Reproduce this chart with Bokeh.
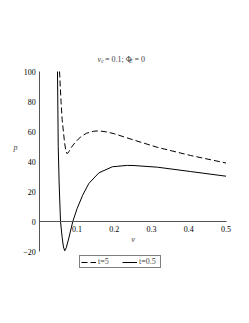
from bokeh.plotting import figure
from bokeh.models import Label, Legend, LegendItem, FixedTicker, Range1d
from bokeh.embed import file_html
from bokeh.resources import INLINE

# --- data ---
v_t5 = [0.053, 0.057, 0.060, 0.0663, 0.070, 0.0735, 0.078, 0.085, 0.096, 0.110,
        0.125, 0.145, 0.160, 0.180, 0.200, 0.250, 0.315, 0.405, 0.500]
p_t5 = [100, 80, 68, 53, 47, 45.2, 46.5, 49.5, 53, 56.5,
        58.8, 60.2, 60.4, 59.7, 58.5, 54.5, 49.5, 44, 39]

v_t05 = [0.0475, 0.0495, 0.052, 0.0556, 0.060, 0.0635, 0.067, 0.071, 0.078, 0.0886,
         0.100, 0.115, 0.132, 0.159, 0.195, 0.235, 0.253, 0.316, 0.405, 0.500]
p_t05 = [100, 50, 25, 0, -10.5, -17, -19.5, -17.5, -11, 0,
         8.5, 17.5, 25.5, 32.5, 36.5, 37.4, 37.3, 36.2, 33.3, 30.2]

x_ticks = [0.1, 0.2, 0.3, 0.4, 0.5]
y_ticks = [-20, 0, 20, 40, 60, 80, 100]
series_labels = ["t=5", "t=0.5"]

FONT = "Liberation Serif"

# layout (pixels on the canvas)
W, H = 233, 307
X0_PX, X1_PX = 39.3, 225.5          # pixel of v=0 and v=0.5
Y100_PX, YM20_PX = 71.0, 251.0      # pixel of p=100 and p=-20
sx = (X1_PX - X0_PX) / 0.5
sy = (YM20_PX - Y100_PX) / 120.0
x_start = -X0_PX / sx
x_end = 0.5 + (W - X1_PX) / sx
y_end = 100 + Y100_PX / sy
y_start = -20 - (H - YM20_PX) / sy

p = figure(width=W, height=H, min_border=0,
           x_range=Range1d(x_start, x_end), y_range=Range1d(y_start, y_end),
           output_backend="svg", toolbar_location=None)
p.outline_line_color = None
p.grid.grid_line_color = None
p.background_fill_color = "white"
p.border_fill_color = "white"

r1 = p.line(v_t5, p_t5, line_color="black", line_width=1, line_dash="6 3")
r2 = p.line(v_t05, p_t05, line_color="black", line_width=1)

for ax in (p.xaxis[0], p.yaxis[0]):
    ax.axis_line_color = "#555555"
    ax.axis_line_width = 1
    ax.major_tick_out = 0
    ax.major_tick_in = 0
    ax.minor_tick_out = 0
    ax.minor_tick_in = 0
    ax.major_label_text_font = FONT
    ax.major_label_text_font_size = "8px"
    ax.major_label_text_color = "black"

p.xaxis.ticker = FixedTicker(ticks=x_ticks)
p.yaxis.ticker = FixedTicker(ticks=y_ticks)
p.xaxis.fixed_location = 0
p.yaxis.fixed_location = 0
p.xaxis.bounds = (0, 0.5)
p.yaxis.bounds = (-20, 100)
p.xaxis.major_label_standoff = 4
p.yaxis.major_label_standoff = 4
p.xaxis.axis_label = "v"
p.xaxis.axis_label_text_font = FONT
p.xaxis.axis_label_text_font_style = "italic"
p.xaxis.axis_label_text_font_size = "8px"
p.xaxis.axis_label_standoff = 0

def px_to_x(px):
    return (px - X0_PX) / sx + 0.0

def px_to_y(py):
    return 100 - (py - Y100_PX) / sy

# y label "p"
p.add_layout(Label(x=px_to_x(15), y=px_to_y(147), text="p", text_font=FONT,
                   text_font_style="italic", text_font_size="8px",
                   text_align="center", text_baseline="middle"))

# title pieces
ty, tsub = px_to_y(58.5), px_to_y(60.5)
pieces = [
    (97.0, ty, "v", "italic", "8px"),
    (100.8, tsub, "c", "italic", "6px"),
    (104.5, ty, "= 0.1; \u03a6", "normal", "8px"),
    (128.5, tsub, "E", "italic", "6px"),
    (134.0, ty, "= 0", "normal", "8px"),
]
for xp, y, t, style, size in pieces:
    p.add_layout(Label(x=px_to_x(xp), y=y, text=t, text_font=FONT, text_font_style=style,
                       text_font_size=size, text_align="left", text_baseline="alphabetic"))

legend = Legend(items=[LegendItem(label=series_labels[0], renderers=[r1]),
                       LegendItem(label=series_labels[1], renderers=[r2])],
                location=(79, H - 268), orientation="horizontal")
legend.label_text_font = FONT
legend.label_text_font_size = "8px"
legend.label_height = 8
legend.glyph_height = 8
legend.glyph_width = 15
legend.label_standoff = 2
legend.spacing = 4
legend.padding = 1
legend.margin = 0
legend.border_line_color = "black"
legend.border_line_width = 1
legend.background_fill_alpha = 1
p.add_layout(legend, "center")

open("out.html", "w").write(file_html(p, INLINE))
